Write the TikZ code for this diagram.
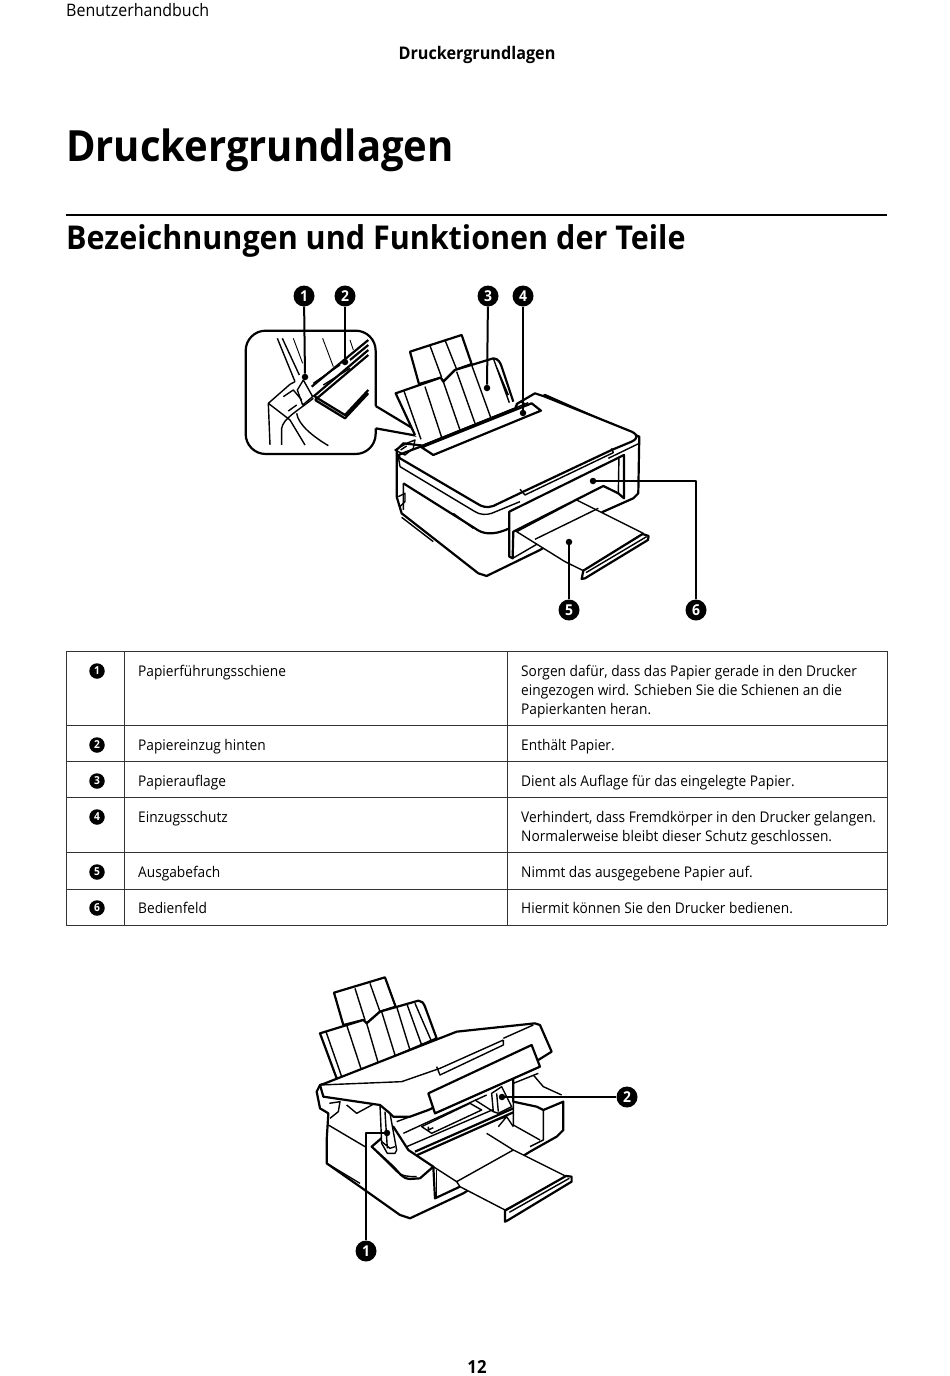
\documentclass[tikz,border=0pt]{standalone}
\usepackage{fontspec}
\setmainfont[FakeStretch=0.93]{Open Sans}
\usetikzlibrary{positioning}
\begin{document}
\begin{tikzpicture}[x=1pt,y=-1pt,
    line join=round,
    num/.style={circle,fill=black,text=white,inner sep=0pt,minimum size=21pt,font=\fontsize{15}{15}\selectfont\bfseries},
    smallnum/.style={num,minimum size=15.5pt,font=\fontsize{11}{11}\selectfont\bfseries},
    dotmark/.style={circle,fill=black,inner sep=0pt,minimum size=6.5pt},
    leader/.style={line width=2pt},
    art/.style={line width=1.4pt},
    heavy/.style={line width=2.2pt},
    fine/.style={line width=0.9pt},
    body/.style={anchor=base west,inner sep=0pt,font=\fontsize{14.75}{15}\selectfont},
    tableline/.style={line width=0.6pt,draw=black!80}]
    \useasboundingbox[fill=white] (0,0) rectangle (950,1376);

    \node[anchor=base west,inner sep=0pt,font=\fontsize{17.2}{17}\selectfont] (runninghead) at (66,16) {Benutzerhandbuch};
    \node[anchor=base,inner sep=0pt,font=\fontsize{17.4}{17}\selectfont\bfseries] (chapterhead) at (477,59) {Druckergrundlagen};
    \node[anchor=base west,inner sep=0pt,font=\fontsize{43}{43}\selectfont\bfseries] (title) at (66,161) {Druckergrundlagen};
    \node[anchor=base west,inner sep=0pt,font=\fontsize{32.8}{33}\selectfont\bfseries] (section) at (66,249) {Bezeichnungen und Funktionen der Teile};
    \draw[line width=1.6pt] (66,215) -- (887,215);
    \node[anchor=base,inner sep=0pt,font=\fontsize{18}{18}\selectfont\bfseries] (pageno) at (477,1373) {12};

    % upper printer, coordinates of a 3x view
    \begin{scope}[shift={(230,280)},x=0.3333pt,y=-0.3333pt]
        % inset
        \draw[heavy,rounded corners=20pt] (437,378) -- (437,152) -- (47,152) -- (47,522) -- (437,522) -- (437,445);
        \draw[heavy] (437,378) -- (570,458) (437,445) -- (575,470);
        \draw[art] (142,175) -- (195,305) (157,175) -- (208,285);
        \draw[fine] (190,175) -- (218,250) (278,175) -- (310,260) (360,180) -- (370,210);
        \draw[heavy] (415,180) -- (245,320) (415,195) -- (360,240) (415,210) -- (250,350) (415,225) -- (255,360);
        \draw[art] (250,310) -- (330,255) (280,315) -- (360,265);
        \draw[heavy] (255,350) -- (345,405) -- (415,330) (255,360) -- (345,415) -- (415,340);
        \draw[art] (120,495) -- (115,370) -- (180,313) -- (195,305) (115,370) -- (180,420) -- (225,495);
        \draw[art] (155,495) -- (155,445) .. controls (160,415) and (200,395) .. (250,355);
        \draw[art] (200,400) .. controls (205,435) and (250,470) .. (295,497);
        \draw[art,fill=white] (220,300) -- (248,350) -- (218,375) -- (202,330) -- cycle;
        \draw[art] (160,350) -- (190,330) -- (215,360) (175,393) -- (200,375);
        % paper support
        \draw[heavy,fill=white] (540,215) -- (695,165) -- (725,252) -- (675,270) -- (640,305) -- (632,293) -- (567,312) -- cycle;
        \draw[art] (600,197) -- (635,292) (645,180) -- (680,268);
        \fill[white] (497,340) -- (632,293) -- (640,305) -- (675,270) -- (790,235) -- (815,260) -- (850,365) -- (570,480) -- (555,465) -- cycle;
        \draw[heavy] (555,465) -- (497,340) -- (632,293) -- (640,305) -- (675,270) -- (790,235) .. controls (805,235) and (812,250) .. (815,260) -- (850,365);
        \draw[art] (790,235) -- (838,368) (800,262) -- (835,345);
        \draw[art] (522,333) -- (573,478) (585,320) -- (635,472) (640,305) -- (690,450) (680,275) -- (735,430) (725,255) -- (782,412);
        % lower body
        \draw[heavy,fill=white] (500,510) -- (500,650) -- (515,700) -- (745,880) -- (770,888) -- (930,810) -- (1120,695) -- (1210,655) -- (1225,640) -- (1228,470) -- (945,345) -- (895,370) -- (580,497) -- (520,490) -- cycle;
        \draw[art] (520,610) -- (520,690) (515,712) -- (610,785);
        \draw[art] (505,650) -- (525,640) -- (525,665) -- (510,680);
        \draw[heavy] (520,610) -- (735,745) .. controls (755,760) and (785,770) .. (838,745);
        \draw[art] (670,700) -- (730,745);
        % scanner lid
        \draw[heavy,fill=white] (860,384) -- (860,372) -- (915,340) -- (945,350) -- (1205,455) .. controls (1225,465) and (1225,475) .. (1205,485) -- (1145,510) -- (880,635) -- (790,678) .. controls (770,685) and (755,680) .. (740,670) -- (510,535) -- (505,525) -- (580,497) -- cycle;
        \draw[art] (510,560) -- (735,695) .. controls (750,705) and (770,705) .. (785,700) -- (870,665) (1135,535) -- (1228,490);
        \draw[art] (505,530) -- (510,560);
        \draw[art] (870,628) -- (885,645) -- (1150,518) -- (1145,505);
        \draw[art] (495,510) -- (530,490) -- (555,480) -- (550,505) -- (525,525) -- cycle (512,510) -- (530,498);
        % feed cover
        \draw[heavy,fill=white] (575,502) -- (905,370) -- (933,392) -- (610,525) -- cycle;
        \draw[art] (580,495) -- (895,368) (855,380) -- (870,365) -- (895,375);
        % panel
        \draw[heavy,fill=white] (838,695) -- (1182,525) -- (1182,655) -- (1165,640) -- (1120,618) -- (850,755) -- (848,835) -- (838,830) -- cycle;
        \draw[art] (1167,530) -- (1165,640);
        % tray
        \draw[art,fill=white] (860,755) -- (1005,845) -- (1060,872) -- (1240,760) -- (1040,660) -- cycle;
        \draw[art] (915,778) -- (1105,685);
        \draw[heavy,fill=white] (1060,872) -- (1238,762) -- (1256,768) -- (1254,780) -- (1065,895) -- (1055,897) -- cycle;
        \draw[art] (1068,878) -- (1250,770);
        \draw[art] (848,835) -- (922,792);
    \end{scope}

    \node[num] (upone) at (304,296) {1};
    \node[num] (uptwo) at (345,296) {2};
    \node[num] (upthree) at (488,296) {3};
    \node[num] (upfour) at (523,296) {4};
    \node[num] (upfive) at (569,610) {5};
    \node[num] (upsix) at (696,610) {6};
    \node[dotmark] (uponedot) at (305,377) {};
    \node[dotmark] (uptwodot) at (345,362) {};
    \node[dotmark] (upthreedot) at (487,388) {};
    \node[dotmark] (upfourdot) at (523,413) {};
    \node[dotmark] (upfivedot) at (569,542) {};
    \node[dotmark] (upsixdot) at (593,481) {};
    \draw[leader] (upone) -- (uponedot);
    \draw[leader] (uptwo) -- (uptwodot);
    \draw[leader] (upthree) -- (upthreedot);
    \draw[leader] (upfour) -- (upfourdot);
    \draw[leader] (upfive) -- (upfivedot);
    \draw[leader] (upsix) |- (upsixdot);

    % table
    \foreach \y in {651,725,761,797,852,889,925}
        \draw[tableline] (66,\y) -- (887,\y);
    \foreach \x in {66,124,507,887}
        \draw[tableline] (\x,651) -- (\x,925);
    \foreach \n/\y in {1/671,2/745,3/781,4/817,5/872,6/908}
        \node[smallnum] (row\n) at (97,\y) {\n};
    \node[body] (partone) at (138,676) {Papierführungsschiene};
    \node[body] (parttwo) at (138,750) {Papiereinzug hinten};
    \node[body] (partthree) at (138,786) {Papierauflage};
    \node[body] (partfour) at (138,822) {Einzugsschutz};
    \node[body] (partfive) at (138,877) {Ausgabefach};
    \node[body] (partsix) at (138,913) {Bedienfeld};
    \node[body] (textonea) at (521,676) {Sorgen dafür, dass das Papier gerade in den Drucker};
    \node[body] (textoneb) at (521,695) {eingezogen wird. Schieben Sie die Schienen an die};
    \node[body] (textonec) at (521,714) {Papierkanten heran.};
    \node[body] (texttwo) at (521,750) {Enthält Papier.};
    \node[body] (textthree) at (521,786) {Dient als Auflage für das eingelegte Papier.};
    \node[body] (textfoura) at (521,822) {Verhindert, dass Fremdkörper in den Drucker gelangen.};
    \node[body] (textfourb) at (521,841) {Normalerweise bleibt dieser Schutz geschlossen.};
    \node[body] (textfive) at (521,877) {Nimmt das ausgegebene Papier auf.};
    \node[body] (textsix) at (521,913) {Hiermit können Sie den Drucker bedienen.};

    % lower printer, coordinates of a 3x view
    \begin{scope}[shift={(300,970)},x=0.3333pt,y=-0.3333pt]
        % paper support
        \draw[heavy,fill=white] (102,68) -- (255,22) -- (287,110) -- (240,125) -- (200,160) -- (190,150) -- (130,165) -- cycle;
        \draw[art] (165,55) -- (195,150) (210,40) -- (240,125);
        \draw[heavy,fill=white] (60,190) -- (190,150) -- (200,160) -- (240,125) -- (355,92) .. controls (365,92) and (370,98) .. (375,110) -- (410,205) -- (120,330) -- (110,325) -- cycle;
        \draw[art] (78,185) -- (125,320) (140,165) -- (185,302) (200,160) -- (235,280) (245,125) -- (285,255) (290,110) -- (330,240) (320,100) -- (365,225) (345,100) -- (395,215);
        % body and right wall
        \draw[heavy,fill=white] (50,365) -- (60,415) -- (85,430) -- (80,510) -- (80,580) -- (180,650) -- (300,735) -- (330,745) -- (490,670) -- (690,545) -- (770,500) -- (790,480) -- (790,395) -- (730,420) -- (710,410) -- (640,395) -- (640,300) -- (60,345) -- cycle;
        \draw[art] (730,420) -- (730,510) -- (690,530) (640,395) -- (640,465) -- (720,510);
        \draw[art] (700,315) -- (730,350) -- (785,375);
        \draw[art] (640,340) -- (715,310);
        \draw[art] (85,465) -- (195,530);
        \draw[art] (80,580) -- (180,640);
        \draw[art] (88,400) -- (120,395) -- (115,425) -- (90,445) (140,405) -- (170,430) -- (225,400);
        % inner mechanism
        \draw[heavy] (345,545) -- (640,415) (352,555) -- (640,427);
        \draw[art] (290,455) -- (385,420) (310,490) -- (560,375) (320,530) -- (600,410);
        \draw[art] (365,470) -- (510,400) -- (545,420) -- (395,490) -- cycle (385,470) -- (385,480) -- (400,473);
        \draw[art] (525,390) -- (580,425);
        \draw[art,fill=white] (575,370) -- (605,350) -- (635,410) -- (595,430) -- (580,425) -- cycle (590,370) -- (595,425);
        \draw[art] (590,450) -- (620,440) -- (640,470) (595,470) -- (620,440);
        % front left
        \draw[heavy,fill=white] (215,530) -- (280,590) .. controls (300,610) and (305,625) .. (330,627) -- (360,625) -- (400,590) -- (325,540) -- (280,470) -- (250,500) -- cycle;
        \draw[art] (230,545) -- (285,600) .. controls (305,620) and (325,620) .. (350,620);
        % tray
        \draw[art,fill=white] (470,635) -- (640,540) -- (800,620) -- (615,720) -- (480,650) -- cycle;
        \draw[art] (400,590) -- (470,635) (560,490) -- (640,540);
        \draw[heavy,fill=white] (615,722) -- (798,618) -- (815,620) -- (815,635) -- (625,750) -- (615,755) -- cycle;
        \draw[art] (628,727) -- (808,625);
        \draw[heavy] (400,590) -- (405,685) -- (480,650);
        \draw[art] (410,600) -- (410,680);
        % arm and lid
        \draw[art,fill=white] (240,405) -- (245,520) -- (262,550) -- (285,550) -- (290,540) -- (270,430) -- cycle;
        \draw[art] (255,425) -- (262,535) (245,515) -- (270,535) -- (285,530);
        \draw[heavy,fill=white] (75,340) -- (470,185) -- (705,160) -- (720,165) -- (755,245) -- (715,270) -- (385,420) -- (330,440) -- (280,440) -- (270,430) -- (240,405) -- (70,380) -- (60,345) -- cycle;
        \draw[art] (60,345) -- (305,335) -- (420,295) -- (610,210) (610,210) -- (610,225) -- (420,315) -- (410,290);
        \draw[art] (610,205) -- (700,165);
        % panel
        \draw[heavy,fill=white] (385,370) -- (695,225) -- (720,290) -- (405,430) -- cycle;
    \end{scope}

    \node[num] (lowone) at (366,1251) {1};
    \node[num] (lowtwo) at (627,1097) {2};
    \node[dotmark] (lowonedot) at (387,1133) {};
    \node[dotmark] (lowtwodot) at (502,1097) {};
    \draw[leader] (lowone) |- (lowonedot);
    \draw[leader] (lowtwo) -- (lowtwodot);
\end{tikzpicture}
\end{document}
